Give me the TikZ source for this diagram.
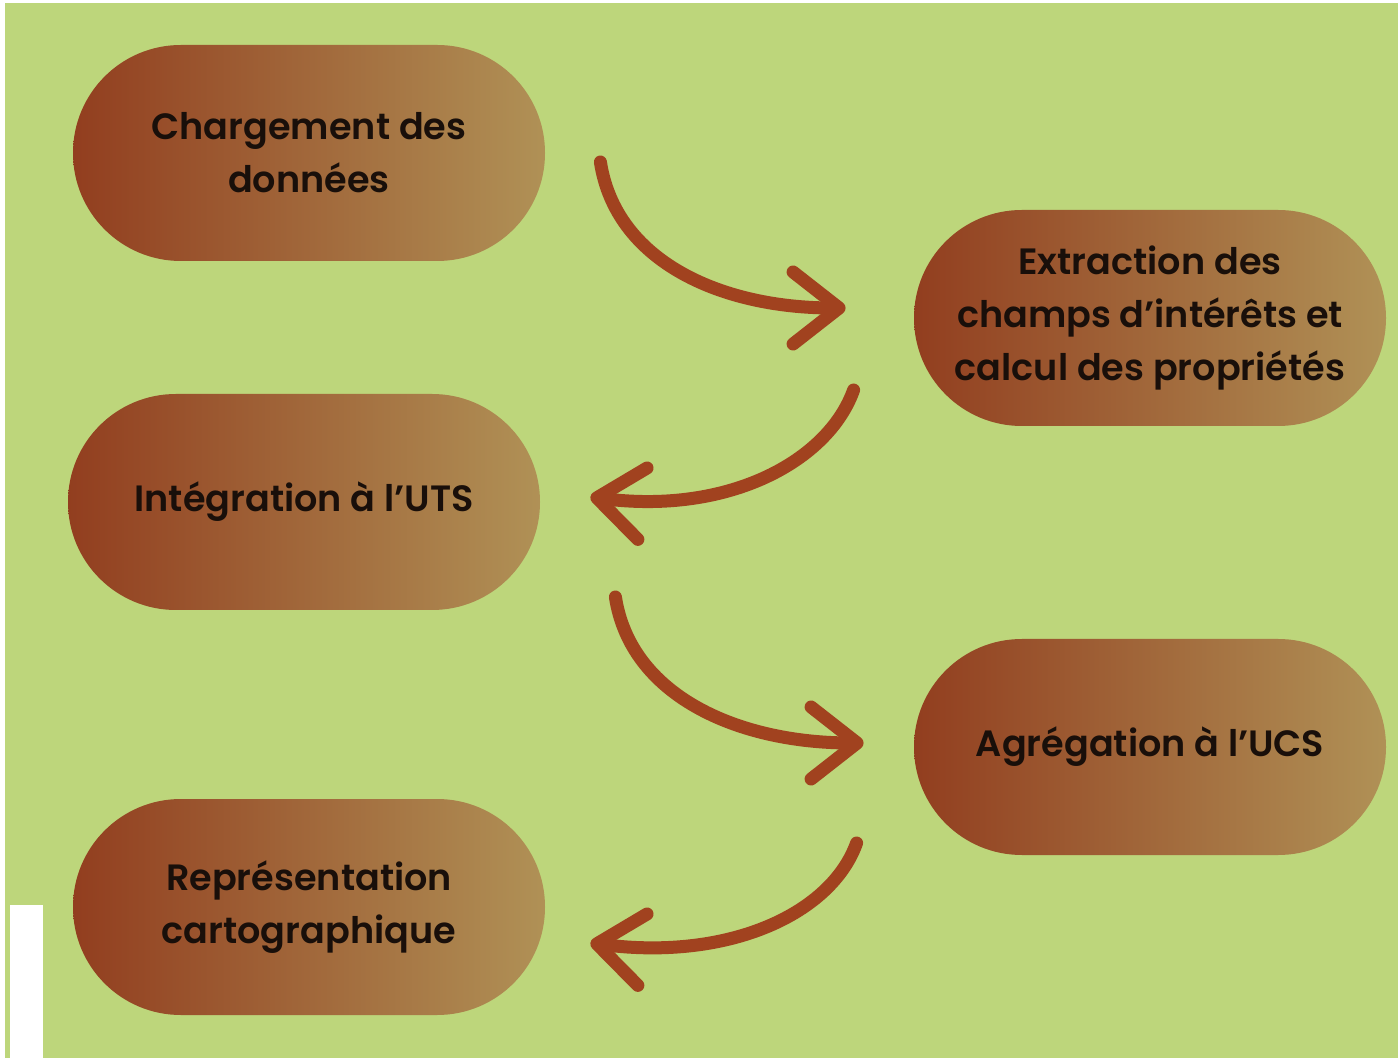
\documentclass[tikz,border=0pt]{standalone}
\usepackage{fontspec}
\newfontfamily\stepfont{Poppins SemiBold}
\usepackage{tikz}
\usetikzlibrary{calc, arrows.meta}
\definecolor{bgGreen}{RGB}{189,214,123}
\definecolor{pillLeft}{RGB}{146,62,31}
\definecolor{pillRight}{RGB}{176,145,86}
\definecolor{rust}{RGB}{161,66,31}
\definecolor{ink}{RGB}{25,15,10}

\begin{document}
\begin{tikzpicture}[
        x=0.5pt, y=-0.5pt,
        % Styles
        pill/.style ={rectangle, rounded corners=53.9pt, left color=pillLeft, right color=pillRight, minimum width=236pt, minimum height=108pt, inner sep=0pt, align=center, text=ink, font=\stepfont\fontsize{18.3}{26.5}\selectfont},
        line/.style ={rust, line width=6.5pt, line cap=round, -{Straight Barb[length=23pt, width=36pt, round]}}
    ]

    % Background
    \useasboundingbox (0,0) rectangle (1398,1058);
    \fill[white] (0,0) rectangle (1398,1058);
    \fill[bgGreen] (5,3) rectangle (1398,1058);
    \fill[white] (10,905) rectangle (43,1058);

    % Steps
    \node[pill] (Load)    at (309,153)  {Chargement des\\donn\'ees};
    \node[pill] (Extract) at (1150,318) {Extraction des\\champs d’intérêts et\\calcul des propriétés};
    \node[pill] (Integ)   at (304,502)  {Intégration à l’UTS};
    \node[pill] (Aggr)    at (1150,747) {Agrégation à l’UCS};
    \node[pill] (Carto)   at (309,907)  {Représentation\\cartographique};

    % Arrow ends
    \coordinate (s1) at ($(Load.east) + (55,9)$);
    \coordinate (t1) at ($(Extract.west) + (-68,-10)$);
    \coordinate (s2) at ($(Extract.west) + (-60,72)$);
    \coordinate (t2) at ($(Integ.east) + (50,-5)$);
    \coordinate (s3) at ($(Integ.east) + (75,95)$);
    \coordinate (t3) at ($(Aggr.west) + (-50,-4)$);
    \coordinate (s4) at ($(Aggr.west) + (-57,96)$);
    \coordinate (t4) at ($(Carto.east) + (45,36)$);

    % Curved arrows
    \draw[line] (s1) .. controls +(15,98) and +(-127,0) .. (t1);
    \draw[line] (s2) .. controls +(-25,70) and +(140,18) .. (t2);
    \draw[line] (s3) .. controls +(15,98) and +(-127,0) .. (t3);
    \draw[line] (s4) .. controls +(-25,70) and +(140,18) .. (t4);

\end{tikzpicture}
\end{document}
